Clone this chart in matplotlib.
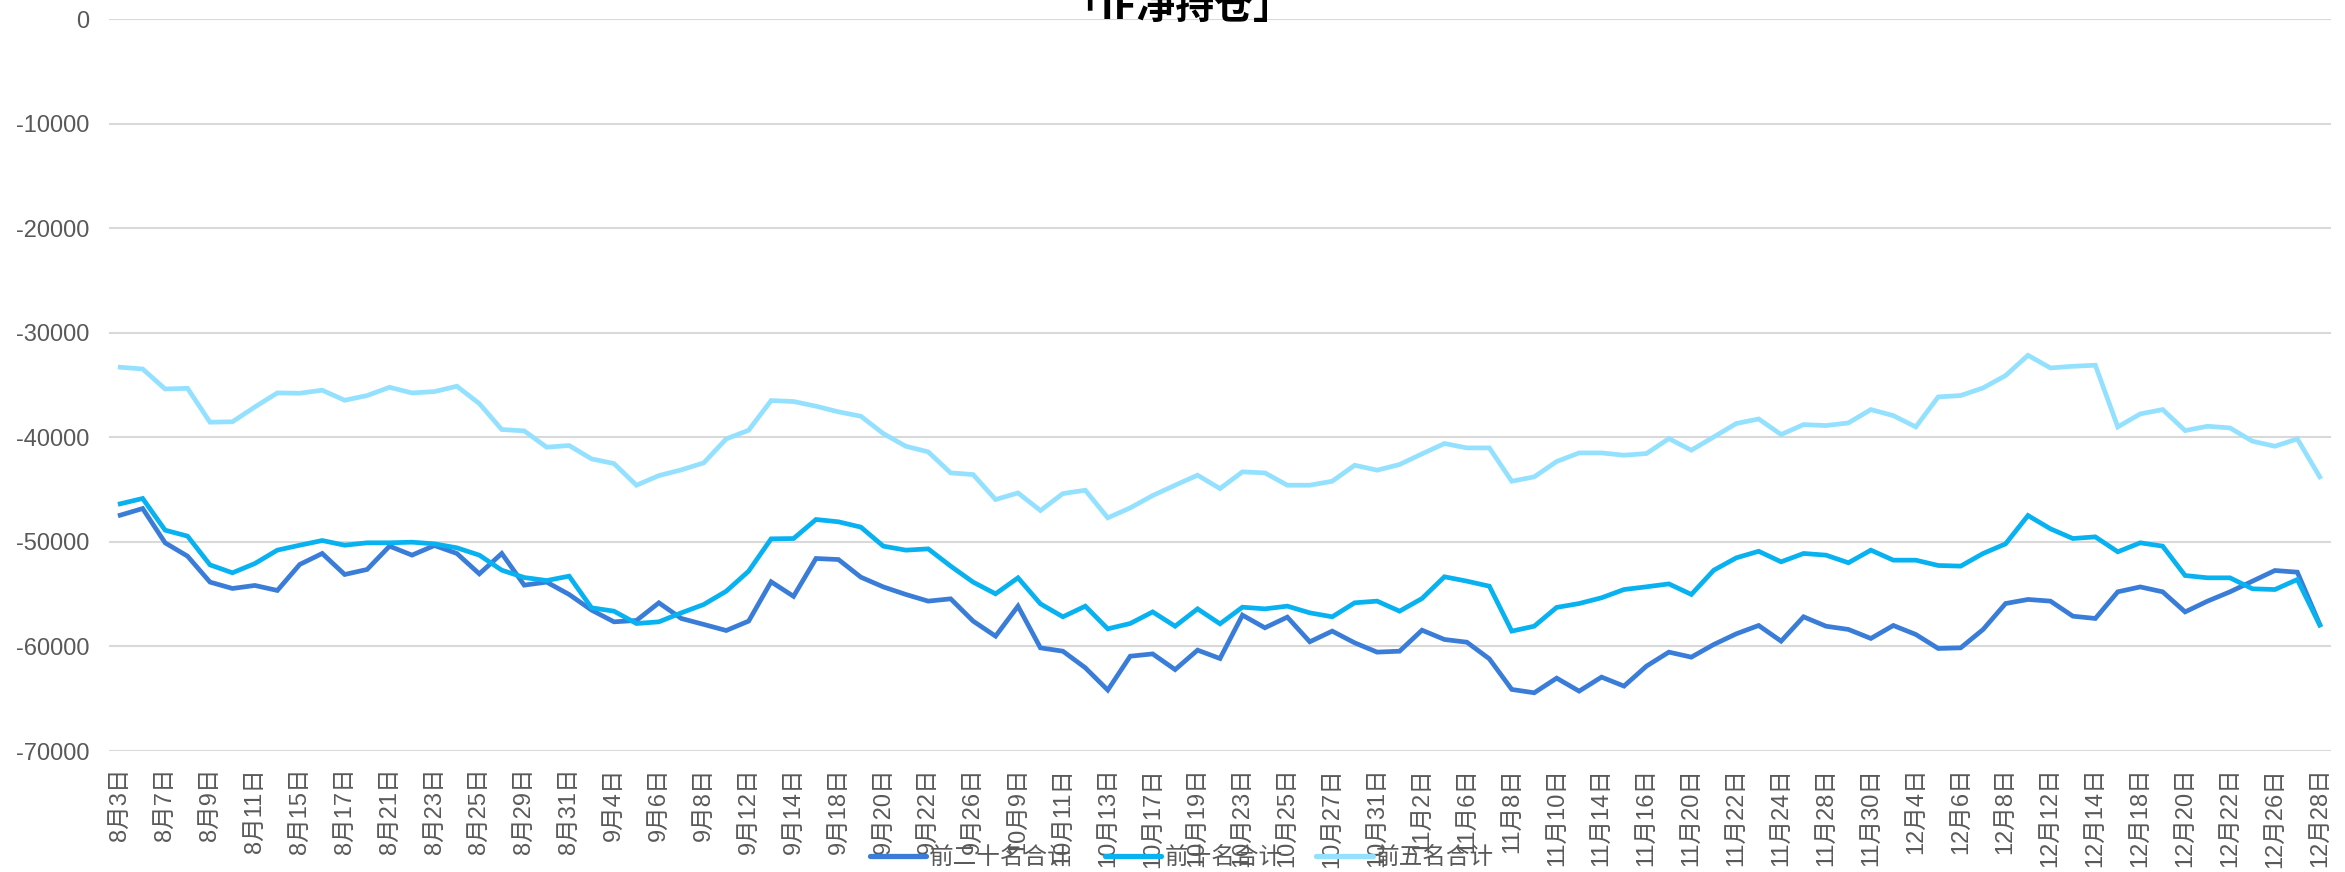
import matplotlib
matplotlib.use('Agg')
import matplotlib.pyplot as plt
from matplotlib.ticker import FuncFormatter

plt.rcParams['font.family'] = ['Liberation Sans', 'Noto Sans CJK SC', 'DejaVu Sans']

dates = (
    ['8月%d日' % d for d in [3, 4, 7, 8, 9, 10, 11, 14, 15, 16, 17, 18, 21, 22, 23, 24, 25, 28, 29, 30, 31]]
    + ['9月%d日' % d for d in [1, 4, 5, 6, 7, 8, 11, 12, 13, 14, 15, 18, 19, 20, 21, 22, 25, 26, 27]]
    + ['10月%d日' % d for d in [9, 10, 11, 12, 13, 16, 17, 18, 19, 20, 23, 24, 25, 26, 27, 30, 31]]
    + ['11月%d日' % d for d in [1, 2, 3, 6, 7, 8, 9, 10, 13, 14, 15, 16, 17, 20, 21, 22, 23, 24, 27, 28, 29, 30]]
    + ['12月%d日' % d for d in [1, 4, 5, 6, 7, 8, 11, 12, 13, 14, 15, 18, 19, 20, 21, 22, 25, 26, 27, 28]]
)

top20 = [-47440, -46800, -50080, -51360, -53840, -54450, -54160, -54640, -52150, -51100,
         -53110, -52630, -50400, -51260, -50340, -51100, -53050, -51100, -54130, -53840,
         -55020, -56520, -57640, -57510, -55820, -57320, -57890, -58470, -57570, -53810,
         -55200, -51580, -51680, -53370, -54300, -55020, -55660, -55440, -57570, -59010,
         -56140, -60130, -60450, -62040, -64170, -60930, -60710, -62210, -60350, -61150,
         -57000, -58210, -57190, -59550, -58530, -59650, -60540, -60450, -58440, -59330,
         -59590, -61180, -64110, -64430, -63030, -64270, -62930, -63790, -61880, -60540,
         -61020, -59810, -58790, -57990, -59490, -57160, -58060, -58370, -59230, -57990,
         -58850, -60190, -60130, -58370, -55890, -55500, -55660, -57100, -57320, -54770,
         -54300, -54770, -56690, -55660, -54770, -53750, -52730, -52890, -57890]

top10 = [-46350, -45840, -48870, -49440, -52190, -52950, -52060, -50780, -50310, -49860,
         -50310, -50080, -50080, -50020, -50180, -50560, -51260, -52700, -53400, -53690,
         -53270, -56300, -56620, -57800, -57640, -56780, -55980, -54710, -52790, -49700,
         -49670, -47850, -48070, -48580, -50400, -50780, -50660, -52310, -53840, -54960,
         -53430, -55920, -57160, -56140, -58310, -57800, -56690, -58060, -56400, -57830,
         -56240, -56400, -56140, -56780, -57160, -55820, -55660, -56620, -55410, -53330,
         -53750, -54230, -58530, -58060, -56260, -55890, -55340, -54550, -54290, -54010,
         -55020, -52700, -51520, -50890, -51900, -51100, -51260, -51990, -50780, -51740,
         -51740, -52250, -52310, -51100, -50180, -47470, -48740, -49670, -49510, -50940,
         -50080, -50400, -53210, -53430, -53430, -54480, -54550, -53590, -57960]

top5 = [-33280, -33450, -35360, -35300, -38540, -38500, -37080, -35740, -35770, -35480,
        -36440, -35990, -35200, -35740, -35610, -35100, -36760, -39240, -39370, -40930,
        -40770, -42050, -42500, -44570, -43650, -43100, -42430, -40140, -39310, -36470,
        -36560, -37010, -37550, -37970, -39630, -40840, -41380, -43390, -43550, -45940,
        -45310, -46990, -45370, -45050, -47690, -46740, -45560, -44570, -43610, -44890,
        -43290, -43390, -44570, -44570, -44190, -42660, -43130, -42590, -41570, -40580,
        -41000, -41000, -44190, -43770, -42300, -41480, -41480, -41700, -41540, -40110,
        -41220, -39950, -38670, -38230, -39720, -38770, -38860, -38610, -37330, -37910,
        -38990, -36120, -35990, -35260, -34080, -32140, -33350, -33190, -33090, -38990,
        -37750, -37330, -39340, -38930, -39090, -40360, -40840, -40140, -43770]

series = [('前二十名合计', top20, '#3A7DD8'),
          ('前十名合计', top10, '#08B2F0'),
          ('前五名合计', top5, '#93E1FE')]

fig = plt.figure(figsize=(23.45, 8.72), dpi=100)
ax = fig.add_axes([109 / 2345, 1 - 751 / 872, (2331 - 109) / 2345, (751 - 19.4) / 872])

x = list(range(len(dates)))
for name, vals, col in series:
    ax.plot(x, vals, color=col, lw=3.4, label=name, solid_joinstyle='miter')

ax.set_xlim(-0.5, len(dates) - 0.5)
ax.set_ylim(-70000, 0)
ax.set_yticks(range(-70000, 1, 10000))
ax.yaxis.set_major_formatter(FuncFormatter(lambda v, p: '%d' % v))
ax.set_xticks(x[::2])
ax.set_xticklabels(dates[::2], rotation=90, va='top', ha='center')

ax.yaxis.grid(True, color='#D9D9D9', lw=1.5)
ax.set_axisbelow(True)
for s in ax.spines.values():
    s.set_visible(False)
ax.tick_params(axis='both', length=0, colors='#595959', labelsize=17)
ax.tick_params(axis='y', pad=14)
ax.tick_params(axis='x', pad=12)

leg = fig.legend(loc='center', bbox_to_anchor=(0.504, 0.016), ncol=3, frameon=False,
                 fontsize=17, handlelength=2.4, handletextpad=0.15, columnspacing=1.4)
for t in leg.get_texts():
    t.set_color('#595959')
for h in leg.get_lines():
    h.set_linewidth(3.8)
    h.set_solid_capstyle('round')

fig.text(0.502, 1 - 19 / 872, '「IF净持仓」', ha='center', va='baseline',
         fontsize=28, fontweight='bold', family=['Noto Sans CJK SC', 'DejaVu Sans'])

fig.savefig('out.png', dpi=100)
